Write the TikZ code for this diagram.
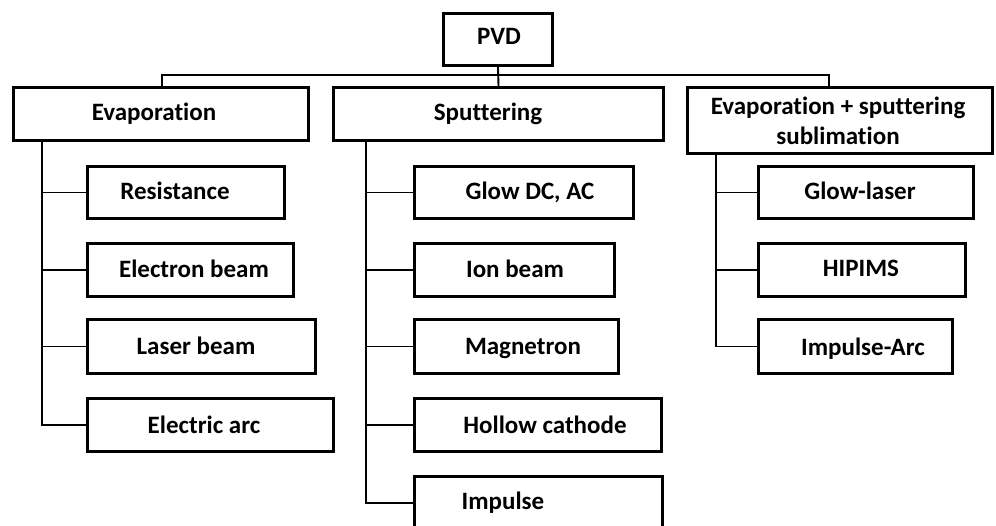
\documentclass[tikz,border=0pt]{standalone}
\usepackage{fontspec}
\setmainfont{Carlito}[Ligatures={NoCommon}]
\begin{document}
\begin{tikzpicture}[x=1pt,y=-1pt,
  box/.style={draw, line width=3.4pt, inner sep=0pt},
  lbl/.style={font=\fontsize{25}{30}\selectfont\bfseries, inner sep=0pt, anchor=mid},
  conn/.style={line width=1.9pt}]
\clip (0,0) rectangle (996,526);
\fill[white] (0,0) rectangle (996,526);
% boxes
\node[box, minimum width=109pt, minimum height=52pt] (pvd) at (498,39.5) {};
\node[box, minimum width=295pt, minimum height=53pt] (evap) at (161,114) {};
\node[box, minimum width=330pt, minimum height=53pt] (spt) at (498.5,114) {};
\node[box, minimum width=305pt, minimum height=66pt] (hyb) at (840,120.5) {};
\node[box, minimum width=197pt, minimum height=52pt] (res) at (186,192.5) {};
\node[box, minimum width=206pt, minimum height=53pt] (eb) at (190.5,270) {};
\node[box, minimum width=228pt, minimum height=54pt] (lb) at (201.5,346.5) {};
\node[box, minimum width=246pt, minimum height=53pt] (ea) at (210.5,425) {};
\node[box, minimum width=219pt, minimum height=52pt] (glow) at (524,192.5) {};
\node[box, minimum width=200pt, minimum height=53pt] (ion) at (514.5,270) {};
\node[box, minimum width=204pt, minimum height=54pt] (mag) at (516.5,346.5) {};
\node[box, minimum width=247pt, minimum height=53pt] (hol) at (538,425) {};
\node[box, minimum width=248pt, minimum height=53pt] (imp) at (538.5,503) {};
\node[box, minimum width=215pt, minimum height=52pt] (gl) at (866,192.5) {};
\node[box, minimum width=207pt, minimum height=53pt] (hip) at (862,270) {};
\node[box, minimum width=194pt, minimum height=54pt] (ia) at (855.5,346.5) {};
% labels
\node[lbl] (tpvd) at (499,42) {PVD};
\node[lbl] (tevap) at (154,118) {Evaporation};
\node[lbl] (tspt) at (488,118) {Sputtering};
\node[font=\fontsize{25}{30}\selectfont\bfseries, inner sep=0pt, align=center] (thyb) at (838,121) {Evaporation + sputtering\\sublimation};
\node[lbl] (tres) at (175,197) {Resistance};
\node[lbl] (teb) at (194,275) {Electron beam};
\node[lbl] (tlb) at (196,352) {Laser beam};
\node[lbl] (tea) at (204,431) {Electric arc};
\node[lbl] (tglow) at (530,197) {Glow DC, AC};
\node[lbl] (tion) at (515,275) {Ion beam};
\node[lbl] (tmag) at (523,352) {Magnetron};
\node[lbl] (thol) at (545,431) {Hollow cathode};
\node[lbl] (timp) at (503,507) {Impulse};
\node[lbl] (tgl) at (860,197) {Glow-laser};
\node[lbl] (thip) at (861,274) {HIPIMS};
\node[lbl] (tia) at (863,353) {Impulse-Arc};
% connectors
\coordinate (busL) at (162,75);
\coordinate (busR) at (829,75);
\coordinate (tl) at (42,0);
\coordinate (tm) at (366,0);
\coordinate (tr) at (716,0);
\draw[conn] (pvd.south) -- (spt.north);
\draw[conn] (evap.north -| busL) -- (busL) -- (busR) -- (busR |- hyb.north);
\draw[conn] (evap.south -| tl) |- (ea.west);
\draw[conn] (tl |- res.west) -- (res.west);
\draw[conn] (tl |- eb.west) -- (eb.west);
\draw[conn] (tl |- lb.west) -- (lb.west);
\draw[conn] (spt.south -| tm) |- (imp.west);
\draw[conn] (tm |- glow.west) -- (glow.west);
\draw[conn] (tm |- ion.west) -- (ion.west);
\draw[conn] (tm |- mag.west) -- (mag.west);
\draw[conn] (tm |- hol.west) -- (hol.west);
\draw[conn] (hyb.south -| tr) |- (ia.west);
\draw[conn] (tr |- gl.west) -- (gl.west);
\draw[conn] (tr |- hip.west) -- (hip.west);
\end{tikzpicture}
\end{document}
